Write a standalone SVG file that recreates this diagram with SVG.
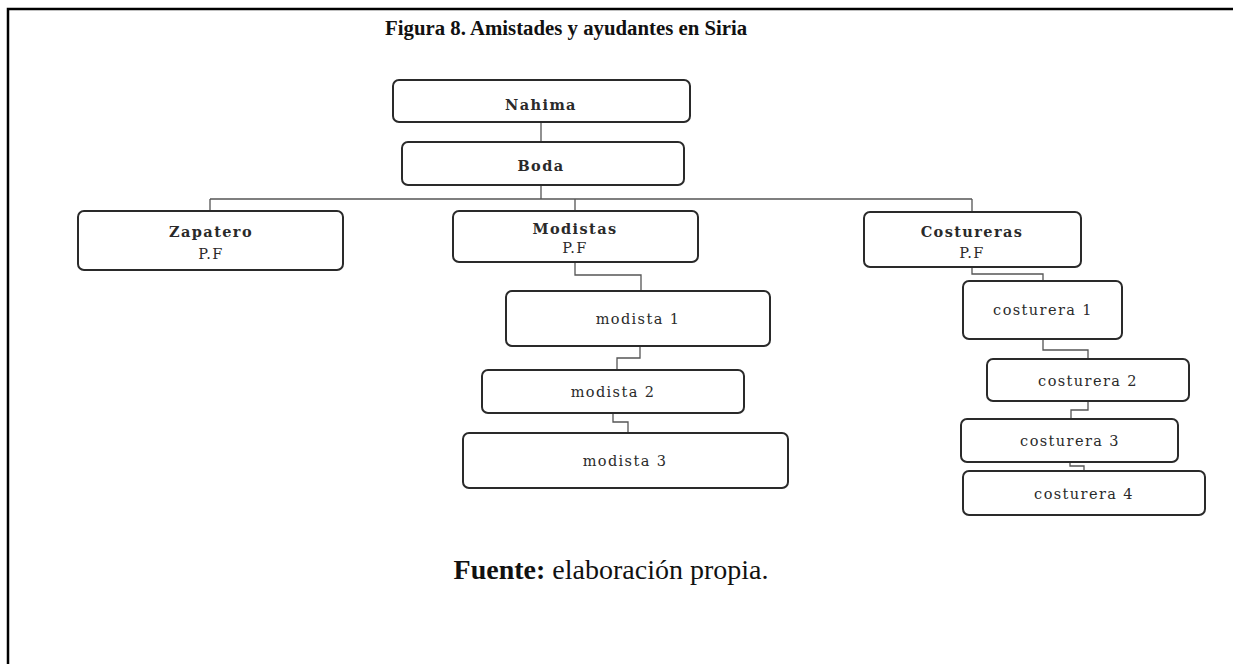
<svg xmlns="http://www.w3.org/2000/svg" width="1233" height="664" viewBox="0 0 1233 664">
<style>
.box{fill:#fff;stroke:#2a2a2a;stroke-width:2}
.t{font-family:"DejaVu Serif","Liberation Serif",serif;font-size:14.5px;fill:#2a2a2a;text-anchor:middle;letter-spacing:1.4px}
.b{font-weight:bold}
.c{fill:none;stroke:#555;stroke-width:1.3}
.frame{stroke:#000;stroke-width:2.5;fill:none}
</style>
<rect width="1233" height="664" fill="#fff"/>
<path class="frame" d="M8 664 V9 H1233"/>
<text x="385" y="35" font-family="Liberation Serif, serif" font-size="20.8" font-weight="bold" fill="#111">Figura 8. Amistades y ayudantes en Siria</text>
<g id="connectors">
<path class="c" d="M541 122 V142"/>
<path class="c" d="M541 185 V199 M210 199 H972 M210 199 V211 M541 199 H575 V211 M972 199 V212"/>
<path class="c" d="M575 262 V275 H641 V291"/>
<path class="c" d="M640 346 V358 H617 V370"/>
<path class="c" d="M613 413 V422 H628 V433"/>
<path class="c" d="M972 267 V274 H1043 V281"/>
<path class="c" d="M1043 339 V350 H1088 V359"/>
<path class="c" d="M1088 401 V410 H1071 V419"/>
<path class="c" d="M1070 462 V466 H1084 V471"/>
</g>
<g id="nahima"><rect class="box" x="393" y="80" width="297" height="42" rx="6"/><text class="t b" x="541" y="110">Nahima</text></g>
<g id="boda"><rect class="box" x="402" y="142" width="282" height="43" rx="6"/><text class="t b" x="541" y="171">Boda</text></g>
<g id="zapatero"><rect class="box" x="78" y="211" width="265" height="59" rx="6"/><text class="t b" x="211" y="237">Zapatero</text><text class="t" x="211" y="259">P.F</text></g>
<g id="modistas"><rect class="box" x="453" y="211" width="245" height="51" rx="6"/><text class="t b" x="575" y="234">Modistas</text><text class="t" x="575" y="253">P.F</text></g>
<g id="costureras"><rect class="box" x="864" y="212" width="217" height="55" rx="6"/><text class="t b" x="972" y="237">Costureras</text><text class="t" x="972" y="258">P.F</text></g>
<g id="modista1"><rect class="box" x="506" y="291" width="264" height="55" rx="6"/><text class="t" x="638" y="324">modista 1</text></g>
<g id="modista2"><rect class="box" x="482" y="370" width="262" height="43" rx="6"/><text class="t" x="613" y="397">modista 2</text></g>
<g id="modista3"><rect class="box" x="463" y="433" width="325" height="55" rx="6"/><text class="t" x="625" y="466">modista 3</text></g>
<g id="costurera1"><rect class="box" x="963" y="281" width="159" height="58" rx="6"/><text class="t" x="1043" y="315">costurera 1</text></g>
<g id="costurera2"><rect class="box" x="987" y="359" width="202" height="42" rx="6"/><text class="t" x="1088" y="386">costurera 2</text></g>
<g id="costurera3"><rect class="box" x="961" y="419" width="217" height="43" rx="6"/><text class="t" x="1070" y="446">costurera 3</text></g>
<g id="costurera4"><rect class="box" x="963" y="471" width="242" height="44" rx="6"/><text class="t" x="1084" y="499">costurera 4</text></g>
<text x="611" y="579" font-family="Liberation Serif, serif" font-size="28" text-anchor="middle" fill="#111"><tspan font-weight="bold">Fuente:</tspan> elaboración propia.</text>
</svg>
